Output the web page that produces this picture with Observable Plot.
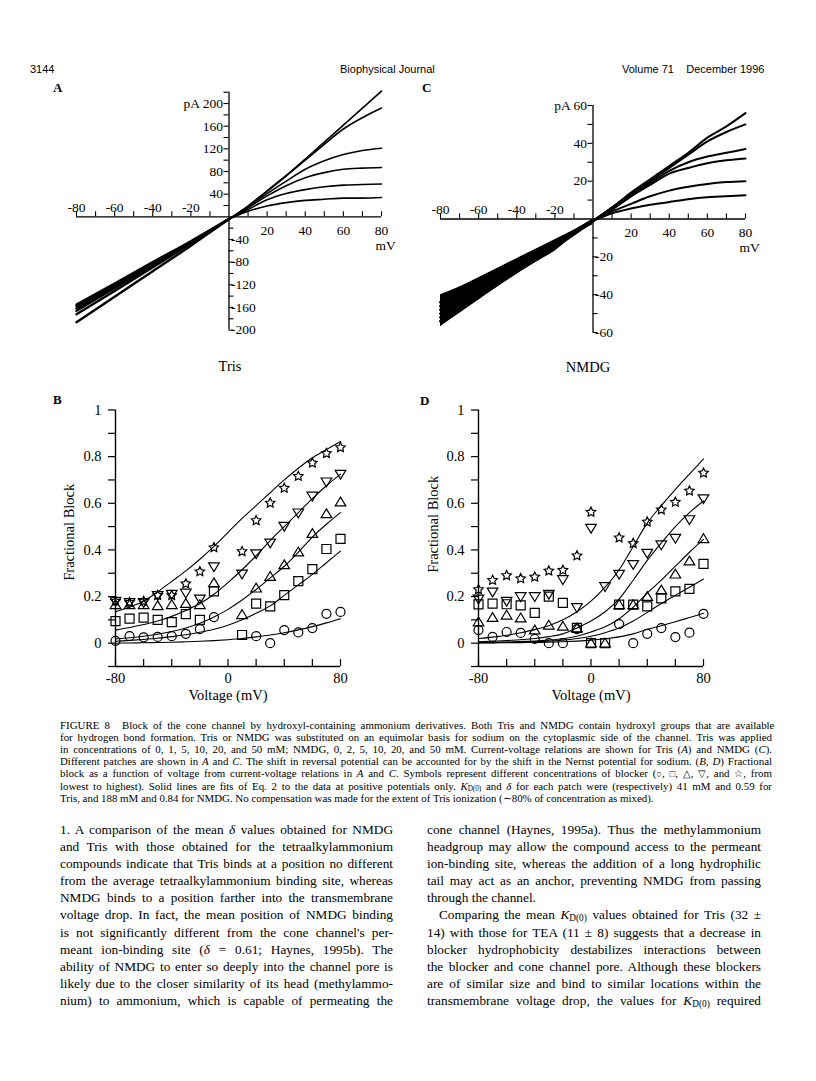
<!DOCTYPE html>
<html><head><meta charset="utf-8">
<script src="https://cdn.jsdelivr.net/npm/d3@7"></script>
<script src="https://cdn.jsdelivr.net/npm/@observablehq/plot@0.6"></script>
<style>
html,body{margin:0;padding:0;background:#fff;}
#page{position:relative;width:816px;height:1081px;overflow:hidden;background:#fff;color:#000;font-family:"Liberation Serif","Times New Roman",serif;}
.a{position:absolute;}
.hdr{font-family:"Liberation Sans",Arial,sans-serif;font-size:11px;line-height:11px;top:64px;white-space:nowrap;}
.plet{font-weight:bold;font-size:13px;line-height:13px;}
.ptl{font-size:14.5px;line-height:16px;text-align:center;width:100px;}
.cap{left:60px;width:712px;font-size:10.9px;line-height:12px;top:719px;}
.col{font-size:13.3px;line-height:17.1px;top:821px;}
.jl{display:block;white-space:nowrap;}
sub{font-size:70%;vertical-align:-0.25em;line-height:0;}
.cap sub{font-size:66%;vertical-align:-0.12em;}
.sy{font-size:9.5px;}
</style></head>
<body><div id="page">
<div class="a hdr" style="left:30px">3144</div>
<div class="a hdr" style="left:340px">Biophysical Journal</div>
<div class="a hdr" style="left:622px">Volume 71&nbsp;&nbsp;&nbsp; December 1996</div>

<div class="a" id="pa" style="left:40px;top:80px"></div>
<div class="a" id="pc" style="left:415px;top:80px"></div>
<div class="a" id="pb" style="left:40px;top:390px"></div>
<div class="a" id="pd" style="left:415px;top:390px"></div>

<div class="a plet" style="left:53px;top:81px">A</div>
<div class="a plet" style="left:422px;top:81px">C</div>
<div class="a plet" style="left:53px;top:393px">B</div>
<div class="a plet" style="left:420px;top:394px">D</div>
<div class="a ptl" style="left:180px;top:358px">Tris</div>
<div class="a ptl" style="left:538px;top:359px">NMDG</div>

<div class="a cap">
<div class="jl"><span class="t">FIGURE&nbsp;8<span style="display:inline-block;width:12px"></span>Block of the cone channel by hydroxyl-containing ammonium derivatives. Both Tris and NMDG contain hydroxyl groups that are available</span></div>
<div class="jl"><span class="t">for hydrogen bond formation. Tris or NMDG was substituted on an equimolar basis for sodium on the cytoplasmic side of the channel. Tris was applied</span></div>
<div class="jl"><span class="t">in concentrations of 0, 1, 5, 10, 20, and 50 mM; NMDG, 0, 2, 5, 10, 20, and 50 mM. Current-voltage relations are shown for Tris (<i>A</i>) and NMDG (<i>C</i>).</span></div>
<div class="jl"><span class="t">Different patches are shown in <i>A</i> and <i>C</i>. The shift in reversal potential can be accounted for by the shift in the Nernst potential for sodium. (<i>B, D</i>) Fractional</span></div>
<div class="jl"><span class="t">block as a function of voltage from current-voltage relations in <i>A</i> and <i>C</i>. Symbols represent different concentrations of blocker (<span class="sy">○</span>, <span class="sy">□</span>, <span class="sy">△</span>, <span class="sy">▽</span>, and <span class="sy">☆</span>, from</span></div>
<div class="jl"><span class="t">lowest to highest). Solid lines are fits of Eq. 2 to the data at positive potentials only. <i>K</i><sub>D(0)</sub> and <i>δ</i> for each patch were (respectively) 41 mM and 0.59 for</span></div>
<div style="white-space:nowrap">Tris, and 188 mM and 0.84 for NMDG. No compensation was made for the extent of Tris ionization (∼80% of concentration as mixed).</div>
</div>

<div class="a col" style="left:60px;width:333px">
<div class="jl"><span class="t">1. A comparison of the mean <i>δ</i> values obtained for NMDG</span></div>
<div class="jl"><span class="t">and Tris with those obtained for the tetraalkylammonium</span></div>
<div class="jl"><span class="t">compounds indicate that Tris binds at a position no different</span></div>
<div class="jl"><span class="t">from the average tetraalkylammonium binding site, whereas</span></div>
<div class="jl"><span class="t">NMDG binds to a position farther into the transmembrane</span></div>
<div class="jl"><span class="t">voltage drop. In fact, the mean position of NMDG binding</span></div>
<div class="jl"><span class="t">is not significantly different from the cone channel's per-</span></div>
<div class="jl"><span class="t">meant ion-binding site (<i>δ</i> = 0.61; Haynes, 1995b). The</span></div>
<div class="jl"><span class="t">ability of NMDG to enter so deeply into the channel pore is</span></div>
<div class="jl"><span class="t">likely due to the closer similarity of its head (methylammo-</span></div>
<div class="jl"><span class="t">nium) to ammonium, which is capable of permeating the</span></div>
</div>

<div class="a col" style="left:427px;width:334px">
<div class="jl"><span class="t">cone channel (Haynes, 1995a). Thus the methylammonium</span></div>
<div class="jl"><span class="t">headgroup may allow the compound access to the permeant</span></div>
<div class="jl"><span class="t">ion-binding site, whereas the addition of a long hydrophilic</span></div>
<div class="jl"><span class="t">tail may act as an anchor, preventing NMDG from passing</span></div>
<div style="white-space:nowrap">through the channel.</div>
<div class="jl" style="text-indent:12px"><span class="t">Comparing the mean <i>K</i><sub>D(0)</sub> values obtained for Tris (32 ±</span></div>
<div class="jl"><span class="t">14) with those for TEA (11 ± 8) suggests that a decrease in</span></div>
<div class="jl"><span class="t">blocker hydrophobicity destabilizes interactions between</span></div>
<div class="jl"><span class="t">the blocker and cone channel pore. Although these blockers</span></div>
<div class="jl"><span class="t">are of similar size and bind to similar locations within the</span></div>
<div class="jl"><span class="t">transmembrane voltage drop, the values for <i>K</i><sub>D(0)</sub> required</span></div>
</div>
</div>

<script>
// ---------- Panel A (Tris I-V), pA vs mV ----------
const ivVolt = [-80, -60, -40, -20, 0, 10, 20, 30, 40, 50, 60, 70, 80];
const trisNames = ["0 mM", "1 mM", "5 mM", "10 mM", "20 mM", "50 mM"];
const tris0  = [-186, -141, -96, -51, -4, 19, 46, 73, 102, 132, 162, 192, 222];
const tris1  = [-172, -131, -89, -47, -4, 19, 45, 72, 100, 128, 155, 175, 192];
const tris5  = [-166, -126, -86, -46, -4, 18, 41, 63, 84, 99, 110, 117, 121];
const tris10 = [-162, -123, -84, -45, -4, 16, 37, 55, 69, 78, 84, 86, 87];
const tris20 = [-158, -120, -82, -44, -4, 13, 30, 41, 48, 53, 56, 57, 58];
const tris50 = [-155, -118, -80, -43, -4, 10, 19, 25, 29, 31, 33, 33, 34];

// ---------- Panel C (NMDG I-V) ----------
const nmdgNames = ["0 mM", "2 mM", "5 mM", "10 mM", "20 mM", "50 mM"];
const nmdg0  = [-54, -41, -28, -15, -1, 6, 14, 21, 28, 35, 43, 49, 56];
const nmdg2  = [-52, -40, -27, -14, -1, 6, 13, 20, 27, 34, 41, 46, 50];
const nmdg5  = [-50, -38, -26, -14, -1, 6, 13, 19, 25.5, 30, 33, 35, 37];
const nmdg10 = [-48, -36, -25, -13, -1, 5, 12, 18, 24, 27, 29.5, 31, 32];
const nmdg20 = [-46, -35, -24, -13, -1, 4, 8, 12, 15, 17, 18.5, 19.5, 20];
const nmdg50 = [-44, -33, -23, -12, -1, 3, 5.5, 7.5, 9, 10.5, 11.5, 12, 12.5];
// noisy envelope of the NMDG traces at negative potentials
const nmdgNoiseVolt = [-80, -70, -60, -50, -40, -30, -20, -10, 0];
const nmdgNoiseLo = [-57, -50, -43, -36, -29, -23, -17, -9, -3];
const nmdgNoiseHi = [-40, -36, -31, -26, -21, -16, -11, -6, 0];

// I-V axis ticks / labels
const ivXTicks = [-80, -70, -60, -50, -40, -30, -20, -10, 10, 20, 30, 40, 50, 60, 70, 80];
const ivXNegLabels = [-80, -60, -40, -20];
const ivXPosLabels = [20, 40, 60, 80];
const aYPosTicks = [20, 40, 60, 80, 100, 120, 140, 160, 180, 200, 220];
const aYNegTicks = [-20, -40, -60, -80, -100, -120, -140, -160, -180, -200];
const aYPosLabels = [40, 80, 120, 160, 200];
const aYNegLabels = [-40, -80, -120, -160, -200];
const cYPosTicks = [10, 20, 30, 40, 50, 60];
const cYNegTicks = [-10, -20, -30, -40, -50, -60];
const cYPosLabels = [20, 40, 60];
const cYNegLabels = [-20, -40, -60];

// ---------- Panels B, D (fractional block) ----------
const blockVolt = [-80, -70, -60, -50, -40, -30, -20, -10, 0, 10, 20, 30, 40, 50, 60, 70, 80];
// B: Tris 1, 5, 10, 20, 50 mM
const bCircle = [0.01, 0.03, 0.025, 0.027, 0.03, 0.04, 0.06, 0.112, null, null, 0.03, 0.0, 0.056, 0.046, 0.065, 0.126, 0.134];
const bSquare = [0.095, 0.105, 0.11, 0.10, 0.09, 0.125, 0.10, 0.222, null, 0.035, 0.17, 0.158, 0.206, 0.266, 0.318, 0.404, 0.447];
const bTriUp  = [0.165, 0.165, 0.165, 0.16, 0.165, 0.17, 0.165, 0.259, null, 0.122, 0.236, 0.286, 0.336, 0.391, 0.47, 0.555, 0.605];
const bTriDn  = [0.18, 0.175, 0.175, 0.205, 0.21, 0.215, 0.19, 0.328, null, 0.297, 0.384, 0.43, 0.502, 0.559, 0.631, 0.692, 0.725];
const bStar   = [0.18, 0.175, 0.18, 0.205, 0.205, 0.255, 0.307, 0.41, null, 0.393, 0.526, 0.601, 0.665, 0.716, 0.773, 0.814, 0.839];
const bFitCircle = [0.0, 0.001, 0.002, 0.003, 0.004, 0.006, 0.008, 0.011, 0.015, 0.02, 0.027, 0.035, 0.045, 0.057, 0.071, 0.087, 0.105];
const bFitSquare = [0.008, 0.012, 0.016, 0.021, 0.028, 0.036, 0.047, 0.06, 0.077, 0.1, 0.128, 0.16, 0.205, 0.25, 0.295, 0.345, 0.395];
const bFitTriUp  = [0.018, 0.023, 0.03, 0.038, 0.05, 0.065, 0.085, 0.112, 0.145, 0.185, 0.23, 0.28, 0.33, 0.39, 0.455, 0.51, 0.56];
const bFitTriDn  = [0.056, 0.067, 0.08, 0.095, 0.115, 0.14, 0.17, 0.21, 0.26, 0.315, 0.375, 0.44, 0.50, 0.56, 0.62, 0.675, 0.725];
const bFitStar   = [0.135, 0.155, 0.18, 0.22, 0.265, 0.31, 0.36, 0.415, 0.475, 0.535, 0.59, 0.645, 0.70, 0.75, 0.795, 0.83, 0.865];
// D: NMDG 2, 5, 10, 20, 50 mM
const dCircle = [0.056, 0.027, 0.048, 0.044, 0.018, 0.0, 0.0, 0.06, null, null, 0.082, 0.0, 0.04, 0.065, 0.026, 0.045, 0.126];
const dSquare = [0.166, 0.17, 0.167, 0.162, 0.13, 0.2, 0.173, 0.066, 0.0, 0.0, 0.165, 0.165, 0.158, 0.192, 0.222, 0.233, 0.34];
const dTriUp  = [0.091, 0.11, 0.12, 0.108, 0.056, 0.077, 0.072, 0.065, 0.0, 0.0, 0.165, 0.165, 0.2, 0.228, 0.296, 0.352, 0.448];
const dTriDn  = [0.19, 0.22, 0.18, 0.20, 0.20, 0.21, 0.273, 0.153, 0.493, 0.243, 0.296, 0.338, 0.386, 0.422, 0.45, 0.53, 0.62];
const dStar   = [0.23, 0.27, 0.29, 0.277, 0.284, 0.31, 0.313, 0.375, 0.562, null, 0.452, 0.428, 0.52, 0.572, 0.605, 0.653, 0.73];
const dFitCircle = [0.001, 0.0015, 0.002, 0.0025, 0.003, 0.004, 0.006, 0.009, 0.013, 0.019, 0.027, 0.04, 0.06, 0.075, 0.092, 0.11, 0.128];
const dFitSquare = [0.002, 0.0025, 0.003, 0.004, 0.006, 0.009, 0.013, 0.02, 0.03, 0.045, 0.065, 0.095, 0.132, 0.17, 0.205, 0.24, 0.275];
const dFitTriUp  = [0.003, 0.004, 0.005, 0.007, 0.009, 0.013, 0.019, 0.03, 0.048, 0.07, 0.105, 0.155, 0.215, 0.27, 0.33, 0.39, 0.445];
const dFitTriDn  = [0.006, 0.008, 0.011, 0.015, 0.02, 0.028, 0.04, 0.065, 0.095, 0.135, 0.19, 0.27, 0.355, 0.43, 0.50, 0.56, 0.61];
const dFitStar   = [0.02, 0.026, 0.034, 0.045, 0.058, 0.075, 0.1, 0.135, 0.18, 0.24, 0.315, 0.415, 0.515, 0.59, 0.66, 0.725, 0.79];

const blockXTicks = [-80, -60, -40, -20, 0, 20, 40, 60, 80];
const blockYTicks = [-0.1, 0, 0.1, 0.2, 0.3, 0.4, 0.5, 0.6, 0.7, 0.8, 0.9, 1];
const blockYLabels = [0, 0.2, 0.4, 0.6, 0.8, 1];
const blockXLabels = [-80, 0, 80];

// ---------- symbols ----------
const mk = (fn) => ({draw(c, size) { fn(c, Math.sqrt(size / Math.PI)); }});
const symCircle = mk((c, r) => { c.moveTo(r, 0); c.arc(0, 0, r, 0, 2 * Math.PI); });
const symSquare = mk((c, r) => { const s = r; c.moveTo(-s, -s); c.lineTo(s, -s); c.lineTo(s, s); c.lineTo(-s, s); c.closePath(); });
const symTriUp = mk((c, r) => { c.moveTo(0, -r * 1.1); c.lineTo(r * 1.18, r * 0.85); c.lineTo(-r * 1.18, r * 0.85); c.closePath(); });
const symTriDn = mk((c, r) => { c.moveTo(0, r * 1.1); c.lineTo(r * 1.18, -r * 0.85); c.lineTo(-r * 1.18, -r * 0.85); c.closePath(); });
const symStar = mk((c, r) => {
  const R = r * 1.1, ri = R * 0.5;
  for (let i = 0; i < 10; i++) {
    const a = -Math.PI / 2 + i * Math.PI / 5, rr = i % 2 ? ri : R;
    const x = rr * Math.cos(a), y = rr * Math.sin(a);
    if (i) c.lineTo(x, y); else c.moveTo(x, y);
  }
  c.closePath();
});

const FONT = "Liberation Serif";
const baseStyle = {fontFamily: FONT, fontSize: "13.5px", background: "transparent", overflow: "visible", color: "black"};

function ivPlot(o) {
  const {W, H, ml, mr, mt, mb, yDomain, curves, names, yPosT, yNegT, yPosL, yNegL, topLabel, negW, posW, env} = o;
  const pxX = (W - ml - mr) / 160, pxY = (H - mt - mb) / (yDomain[1] - yDomain[0]);
  const tl = 5;
  const rows = curves.flatMap((c, k) => ivVolt.map((v, i) => ({v, i: c[i], s: names[k]})));
  const marks = [];
  if (env) marks.push(Plot.areaY(env.volt.map((v, i) => ({v, lo: env.lo[i], hi: env.hi[i]})),
    {x: "v", y1: "lo", y2: "hi", fill: "black", curve: "monotone-x"}));
  marks.push(
    Plot.line(rows.filter(d => d.v <= 0), {x: "v", y: "i", z: "s", stroke: "black", strokeWidth: negW, curve: "monotone-x"}),
    Plot.line(rows.filter(d => d.v >= 0), {x: "v", y: "i", z: "s", stroke: "black", strokeWidth: posW, curve: "monotone-x"}),
    Plot.ruleY([0], {x1: -80, x2: 80, strokeWidth: 1.3}),
    Plot.ruleX([0], {y1: yDomain[0], y2: yDomain[1], strokeWidth: 1.3}),
    Plot.ruleX(ivXTicks, {x: d => d, y1: 0, y2: tl / pxY, strokeWidth: 1.1}),
    Plot.ruleY(yPosT, {y: d => d, x1: 0, x2: -tl / pxX, strokeWidth: 1.1}),
    Plot.ruleY(yNegT, {y: d => d, x1: 0, x2: tl / pxX, strokeWidth: 1.1}),
    Plot.text(ivXNegLabels, {x: d => d, y: 0, text: d => String(d), dy: -9, fontSize: 13.5, fontFamily: FONT}),
    Plot.text(ivXPosLabels, {x: d => d, y: 0, text: d => String(d), dy: 14, fontSize: 13.5, fontFamily: FONT}),
    Plot.text(["mV"], {x: 80, y: 0, dy: 29, dx: 4, fontSize: 13.5, fontFamily: FONT}),
    Plot.text(yPosL, {x: 0, y: d => d, text: d => d === topLabel ? "pA " + d : String(d), textAnchor: "end", dx: -6, fontSize: 13.5, fontFamily: FONT}),
    Plot.text(yNegL, {x: 0, y: d => d, text: d => String(d), textAnchor: "start", dx: 2, fontSize: 13.5, fontFamily: FONT})
  );
  return Plot.plot({
    width: W, height: H, marginLeft: ml, marginRight: mr, marginTop: mt, marginBottom: mb,
    x: {domain: [-80, 80], axis: null}, y: {domain: yDomain, axis: null},
    style: baseStyle, marks
  });
}

function series(vals) {
  return blockVolt.map((v, i) => ({v, f: vals[i]})).filter(d => d.f != null);
}

function blockPlot(o) {
  const W = 320, H = 320, mt = 19.5, mb = 44;
  const {ml, mr, pts, fits, labDx, labDy} = o;
  const pxX = (W - ml - mr) / 160, pxY = (H - mt - mb) / 1.1;
  const tl = 7;
  const fitRows = fits.flatMap((f, k) => series(f).map(d => ({...d, k})));
  const syms = [symCircle, symSquare, symTriUp, symTriDn, symStar];
  return Plot.plot({
    width: W, height: H, marginLeft: ml, marginRight: mr, marginTop: mt, marginBottom: mb,
    x: {domain: [-80, 80], axis: null}, y: {domain: [-0.1, 1], axis: null},
    style: {...baseStyle, fontSize: "14.5px"},
    marks: [
      Plot.ruleX([-80], {y1: -0.1, y2: 1, strokeWidth: 1.4}),
      Plot.ruleY([-0.1], {x1: -80, x2: 80, strokeWidth: 1.4}),
      Plot.ruleY(blockYTicks, {y: d => d, x1: -80, x2: -80 - tl / pxX, strokeWidth: 1.2}),
      Plot.ruleX(blockXTicks, {x: d => d, y1: -0.1, y2: -0.1 + tl / pxY, strokeWidth: 1.2}),
      Plot.text(blockYLabels, {x: -80, y: d => d, text: d => String(d), textAnchor: "end", dx: -14, fontSize: 14.5, fontFamily: FONT}),
      Plot.text(blockXLabels, {x: d => d, y: -0.1, text: d => String(d), dy: 12, fontSize: 14.5, fontFamily: FONT}),
      Plot.text(["Voltage (mV)"], {frameAnchor: "bottom", lineAnchor: "middle", dy: 29, fontSize: 14.5, fontFamily: FONT}),
      Plot.text(["Fractional Block"], {frameAnchor: "left", lineAnchor: "middle", textAnchor: "middle", rotate: -90, dx: labDx, dy: labDy, fontSize: 14.5, fontFamily: FONT}),
      Plot.line(fitRows, {x: "v", y: "f", z: "k", stroke: "black", strokeWidth: 1.1, curve: "monotone-x"}),
      ...pts.map((p, k) => Plot.dot(series(p), {x: "v", y: "f", symbol: syms[k], r: 4.5, stroke: "black", fill: "none", strokeWidth: 1.2}))
    ]
  });
}

document.getElementById("pa").append(ivPlot({
  W: 380, H: 300, ml: 36, mr: 39, mt: 11.7, mb: 50.4, yDomain: [-200, 220],
  curves: [tris0, tris1, tris5, tris10, tris20, tris50], names: trisNames,
  yPosT: aYPosTicks, yNegT: aYNegTicks, yPosL: aYPosLabels, yNegL: aYNegLabels, topLabel: 200,
  negW: 2.4, posW: 1.6
}));
document.getElementById("pc").append(ivPlot({
  W: 380, H: 300, ml: 25, mr: 50, mt: 25, mb: 48, yDomain: [-60, 60],
  curves: [nmdg0, nmdg2, nmdg5, nmdg10, nmdg20, nmdg50], names: nmdgNames,
  yPosT: cYPosTicks, yNegT: cYNegTicks, yPosL: cYPosLabels, yNegL: cYNegLabels, topLabel: 60,
  negW: 2.8, posW: 2.0, env: {volt: nmdgNoiseVolt, lo: nmdgNoiseLo, hi: nmdgNoiseHi}
}));
document.getElementById("pb").append(blockPlot({
  ml: 75, mr: 20, labDx: -46, labDy: -6,
  pts: [bCircle, bSquare, bTriUp, bTriDn, bStar],
  fits: [bFitCircle, bFitSquare, bFitTriUp, bFitTriDn, bFitStar]
}));
document.getElementById("pd").append(blockPlot({
  ml: 63, mr: 32, labDx: -45, labDy: -14,
  pts: [dCircle, dSquare, dTriUp, dTriDn, dStar],
  fits: [dFitCircle, dFitSquare, dFitTriUp, dFitTriDn, dFitStar]
}));

// justify every full text line to its column width
document.querySelectorAll(".jl").forEach(el => {
  const span = el.querySelector("span.t");
  el.style.wordSpacing = "0px";
  const w = span.getBoundingClientRect().width;
  const indent = parseFloat(getComputedStyle(el).textIndent) || 0;
  const target = el.clientWidth - indent;
  const n = (span.textContent.match(/ /g) || []).length;
  if (n) el.style.wordSpacing = ((target - w) / n) + "px";
});
</script>
</body></html>
